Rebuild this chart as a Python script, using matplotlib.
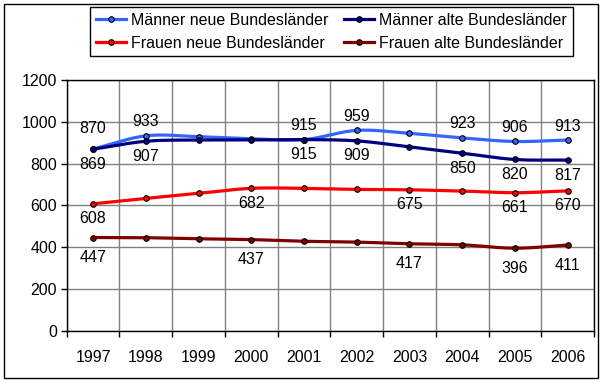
import numpy as np
import matplotlib
matplotlib.use("Agg")
import matplotlib.pyplot as plt
from matplotlib.patches import Rectangle

plt.rcParams['font.family'] = ['Liberation Sans', 'DejaVu Sans']

years = ['1997', '1998', '1999', '2000', '2001', '2002', '2003', '2004', '2005', '2006']

maenner_neue = [870, 933, 929, 919, 915, 959, 945, 923, 906, 913]
maenner_alte = [869, 907, 913, 913, 915, 909, 880, 850, 820, 817]
frauen_neue = [608, 634, 658, 682, 682, 677, 675, 669, 661, 670]
frauen_alte = [447, 446, 441, 437, 429, 425, 417, 412, 396, 411]

# which points get a data label
lab_mn = [0, 1, 4, 5, 7, 8, 9]
lab_ma = [0, 1, 4, 5, 7, 8, 9]
lab_fn = [0, 3, 6, 8, 9]
lab_fa = [0, 3, 6, 8, 9]


def smooth(x, y, n=20):
    # catmull-rom like excel "smoothed line"
    x = np.asarray(x, float)
    y = np.asarray(y, float)
    px = np.concatenate([[2 * x[0] - x[1]], x, [2 * x[-1] - x[-2]]])
    py = np.concatenate([[2 * y[0] - y[1]], y, [2 * y[-1] - y[-2]]])
    xs, ys = [], []
    t = np.linspace(0, 1, n)
    for i in range(1, len(px) - 2):
        for p, out in ((px, xs), (py, ys)):
            p0, p1, p2, p3 = p[i - 1], p[i], p[i + 1], p[i + 2]
            out.append(0.5 * (2 * p1 + (-p0 + p2) * t + (2 * p0 - 5 * p1 + 4 * p2 - p3) * t ** 2
                              + (-p0 + 3 * p1 - 3 * p2 + p3) * t ** 3))
    return np.concatenate(xs), np.concatenate(ys)


fig = plt.figure(figsize=(6.07, 3.82), dpi=100)
ax = fig.add_axes([0.1099, 0.1335, 0.8687, 0.6571])

x = np.arange(len(years))
fs = 11.5
series = [
    (maenner_neue, '#3366FF', 'Männer neue Bundesländer', lab_mn, 14),
    (maenner_alte, '#000080', 'Männer alte Bundesländer', lab_ma, -15),
    (frauen_neue, '#FF0000', 'Frauen neue Bundesländer', lab_fn, -15),
    (frauen_alte, '#800000', 'Frauen alte Bundesländer', lab_fa, -20),
]
handles = {}
for vals, col, name, labs, off in series:
    sx, sy = smooth(x, vals)
    ax.plot(sx, sy, color=col, lw=2.3, solid_capstyle='butt', zorder=3)
    ax.plot(x, vals, ls='none', marker='o', ms=4, mfc=col, mec='black', mew=0.8, zorder=4)
    h, = ax.plot([], [], color=col, lw=2.3, marker='o', ms=4, mfc=col, mec='black', mew=0.8)
    handles[name] = h
    for i in labs:
        o = off
        # first label of the light blue series was dragged a bit higher
        if name.startswith('Männer neue') and i == 0:
            o = off + 7
        ax.annotate(str(vals[i]), (x[i], vals[i]), xytext=(0, o), textcoords='offset pixels',
                    ha='center', va='center', fontsize=fs, zorder=5)

ax.set_xlim(-0.5, 9.5)
ax.set_ylim(0, 1200)
ax.set_yticks(range(0, 1201, 200))
ax.set_xticks(np.arange(-0.5, 10, 1))
ax.set_xticklabels([])
ax.set_xticks(x, minor=True)
ax.set_xticklabels(years, minor=True)
ax.tick_params(axis='x', which='major', length=4, width=1, color='black')
ax.tick_params(axis='x', which='minor', length=0, pad=14, labelsize=fs)
ax.tick_params(axis='y', length=4, width=1, pad=3, labelsize=fs)
ax.grid(True, which='major', color='#808080', lw=1)
ax.set_axisbelow(True)
for s in ax.spines.values():
    s.set_color('black')
    s.set_linewidth(1)

order = ['Männer neue Bundesländer', 'Frauen neue Bundesländer',
         'Männer alte Bundesländer', 'Frauen alte Bundesländer']
leg = fig.legend([handles[k] for k in order], order, ncol=2, loc='upper left',
                 bbox_to_anchor=(90 / 607, 1 - 7 / 382), fontsize=fs, frameon=True,
                 fancybox=False, edgecolor='black', framealpha=1, handlelength=1.9,
                 handletextpad=0.3, columnspacing=1.0, borderpad=0.35, labelspacing=0.5,
                 borderaxespad=0, numpoints=1)
leg.get_frame().set_linewidth(1)

fig.patches.append(Rectangle((3.5 / 607, 4 / 382), 594.5 / 607, 374 / 382, transform=fig.transFigure,
                             fill=False, edgecolor='black', lw=1))

fig.savefig('out.png', dpi=100)
